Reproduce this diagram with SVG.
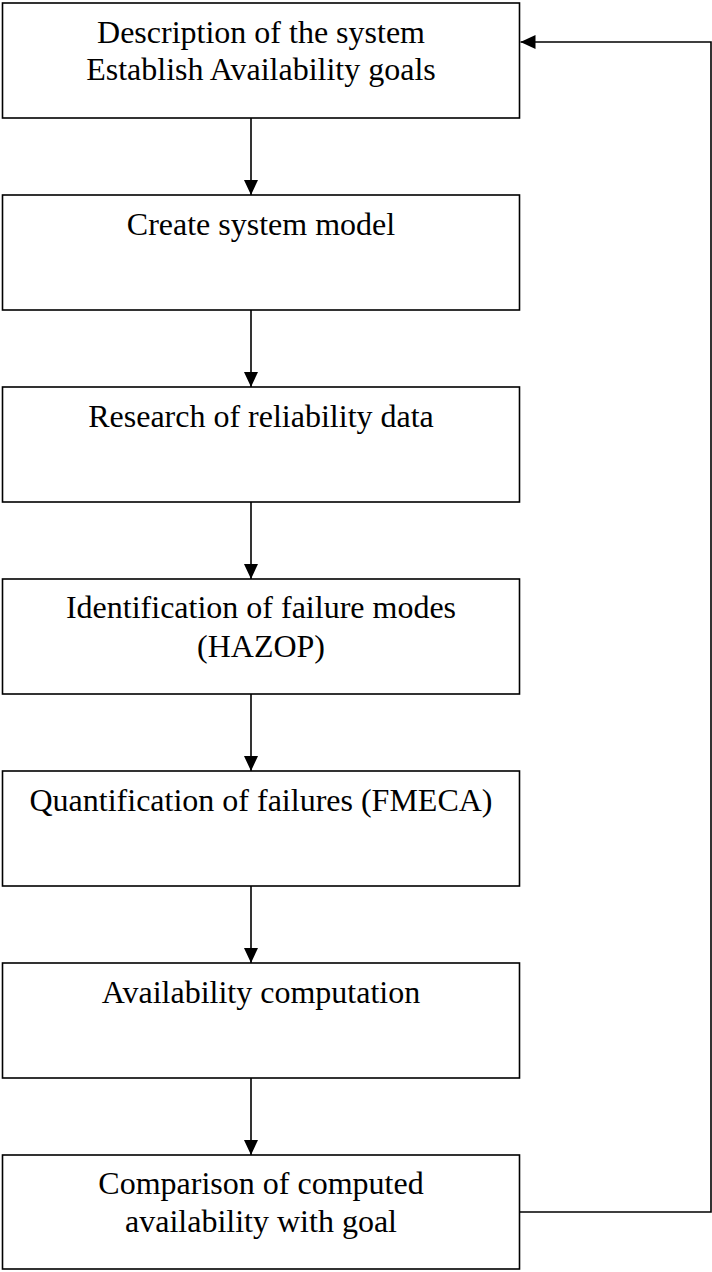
<svg xmlns="http://www.w3.org/2000/svg" width="712" height="1272" viewBox="0 0 712 1272">
<style>
.box{fill:#fff;stroke:#000;stroke-width:1.6}
.lbl{font-family:"Liberation Serif","Times New Roman",serif;font-size:32px;fill:#000;text-anchor:middle}
.conn{fill:none;stroke:#000;stroke-width:1.6}
</style>
<defs>
<marker id="arr" markerUnits="userSpaceOnUse" markerWidth="15" markerHeight="14" refX="15" refY="7" orient="auto">
<path d="M0,0 L15,7 L0,14 Z" fill="#000"/>
</marker>
</defs>
<rect width="712" height="1272" fill="#fff"/>
<g id="n1"><rect class="box" x="2.5" y="3" width="517" height="115"/><text class="lbl" x="261" y="43">Description of the system</text><text class="lbl" x="261" y="80">Establish Availability goals</text></g>
<g id="n2"><rect class="box" x="2.5" y="195" width="517" height="115"/><text class="lbl" x="261" y="235">Create system model</text></g>
<g id="n3"><rect class="box" x="2.5" y="387" width="517" height="115"/><text class="lbl" x="261" y="427">Research of reliability data</text></g>
<g id="n4"><rect class="box" x="2.5" y="579" width="517" height="115"/><text class="lbl" x="261" y="618">Identification of failure modes</text><text class="lbl" x="261" y="657">(HAZOP)</text></g>
<g id="n5"><rect class="box" x="2.5" y="771" width="517" height="115"/><text class="lbl" x="261" y="811">Quantification of failures (FMECA)</text></g>
<g id="n6"><rect class="box" x="2.5" y="963" width="517" height="115"/><text class="lbl" x="261" y="1003">Availability computation</text></g>
<g id="n7"><rect class="box" x="2.5" y="1155" width="517" height="114"/><text class="lbl" x="261" y="1194">Comparison of computed</text><text class="lbl" x="261" y="1232">availability with goal</text></g>
<g id="connectors">
<line class="conn" x1="251" y1="118" x2="251" y2="195" marker-end="url(#arr)"/>
<line class="conn" x1="251" y1="310" x2="251" y2="387" marker-end="url(#arr)"/>
<line class="conn" x1="251" y1="502" x2="251" y2="579" marker-end="url(#arr)"/>
<line class="conn" x1="251" y1="694" x2="251" y2="771" marker-end="url(#arr)"/>
<line class="conn" x1="251" y1="886" x2="251" y2="963" marker-end="url(#arr)"/>
<line class="conn" x1="251" y1="1078" x2="251" y2="1155" marker-end="url(#arr)"/>
<polyline class="conn" points="519.5,1212 711,1212 711,42 520.5,42" marker-end="url(#arr)"/>
</g>
</svg>
